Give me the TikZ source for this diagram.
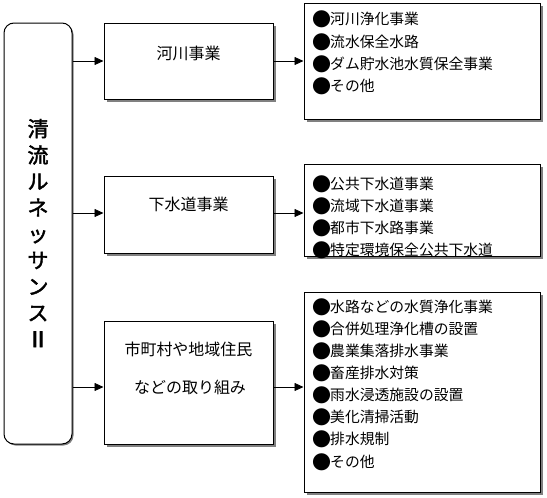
\documentclass[tikz,border=0pt]{standalone}
\usepackage{fontspec}
\newfontfamily\cjk{Noto Sans CJK JP}
\newfontfamily\cjkb[FakeBold=2]{Noto Sans CJK JP}
\newfontfamily\cjkbb[FakeBold=4]{Noto Sans CJK JP}
\usetikzlibrary{arrows.meta,shadows}
\definecolor{shadowgray}{RGB}{128,128,128}
\newcommand\blt{\makebox[16pt][c]{\raisebox{-1.5pt}{\fontsize{19}{14.5}\selectfont ●}}}
\tikzset{
  box/.style={draw=black, line width=1pt, fill=white, rectangle, inner sep=0pt,
    drop shadow={shadow xshift=3pt, shadow yshift=-3pt, fill=shadowgray, opacity=1}},
  conn/.style={line width=0.8pt, -{Triangle[length=9pt,width=8pt]}},
  midtxt/.style={font=\cjk\fontsize{16}{16}\selectfont, inner sep=0pt},
  itemtxt/.style={font=\cjk\fontsize{14.8}{14.8}\selectfont, inner sep=0pt, anchor=west},
}
\begin{document}
\begin{tikzpicture}[x=1pt,y=-1pt]
\useasboundingbox (0,0) rectangle (547,498);
% left rounded box
\node[draw=black, line width=1pt, fill=white, rounded corners=10pt, minimum width=68pt, minimum height=421pt,
  drop shadow={shadow xshift=1.5pt, shadow yshift=-1.5pt, fill=shadowgray, opacity=1}] (L) at (38,233.5) {};
\node[font=\cjkb\fontsize{21}{26.3}\selectfont, align=center, inner sep=0pt] (Ltxt) at (38,233) {清\\流\\ル\\ネ\\ッ\\サ\\ン\\ス\\{\cjkbb Ⅱ}};
% middle boxes
\node[box, minimum width=169pt, minimum height=76pt] (B1) at (188.5,61) {};
\node[box, minimum width=169pt, minimum height=77pt] (B2) at (188.5,214.5) {};
\node[box, minimum width=169pt, minimum height=123pt] (B3) at (188.5,382.5) {};
\node[midtxt] (t1) at (188.5,53) {河川事業};
\node[midtxt] (t2) at (188.5,204) {下水道事業};
\node[midtxt] (t3a) at (188.5,349) {市町村や地域住民};
\node[midtxt] (t3b) at (190,387) {などの取り組み};
% right boxes
\node[box, minimum width=236pt, minimum height=116pt] (R1) at (422,61) {};
\node[box, minimum width=236pt, minimum height=92pt] (R2) at (422,210) {};
\node[box, minimum width=236pt, minimum height=200pt] (R3) at (422,392) {};
% items
\node[itemtxt] (a1) at (314,19) {\blt 河川浄化事業};
\node[itemtxt] (a2) at (314,42) {\blt 流水保全水路};
\node[itemtxt] (a3) at (314,64) {\blt ダム貯水池水質保全事業};
\node[itemtxt] (a4) at (314,86) {\blt その他};
\node[itemtxt] (b1) at (314,184) {\blt 公共下水道事業};
\node[itemtxt] (b2) at (314,206) {\blt 流域下水道事業};
\node[itemtxt] (b3) at (314,228) {\blt 都市下水路事業};
\node[itemtxt] (b4) at (314,250) {\blt 特定環境保全公共下水道};
\node[itemtxt] (c1) at (314,307) {\blt 水路などの水質浄化事業};
\node[itemtxt] (c2) at (314,329) {\blt 合併処理浄化槽の設置};
\node[itemtxt] (c3) at (314,351) {\blt 農業集落排水事業};
\node[itemtxt] (c4) at (314,373) {\blt 畜産排水対策};
\node[itemtxt] (c5) at (314,395) {\blt 雨水浸透施設の設置};
\node[itemtxt] (c6) at (314,417) {\blt 美化清掃活動};
\node[itemtxt] (c7) at (314,439) {\blt 排水規制};
\node[itemtxt] (c8) at (314,462) {\blt その他};
% connectors
\coordinate (y1) at (0,61);
\coordinate (y2) at (0,213);
\coordinate (y3) at (0,387);
\draw[conn] (L.east |- y1) -- (B1.west |- y1);
\draw[conn] (L.east |- y2) -- (B2.west |- y2);
\draw[conn] (L.east |- y3) -- (B3.west |- y3);
\draw[conn] (B1.east |- y1) -- (R1.west |- y1);
\draw[conn] (B2.east |- y2) -- (R2.west |- y2);
\draw[conn] (B3.east |- y3) -- (R3.west |- y3);
\end{tikzpicture}
\end{document}
